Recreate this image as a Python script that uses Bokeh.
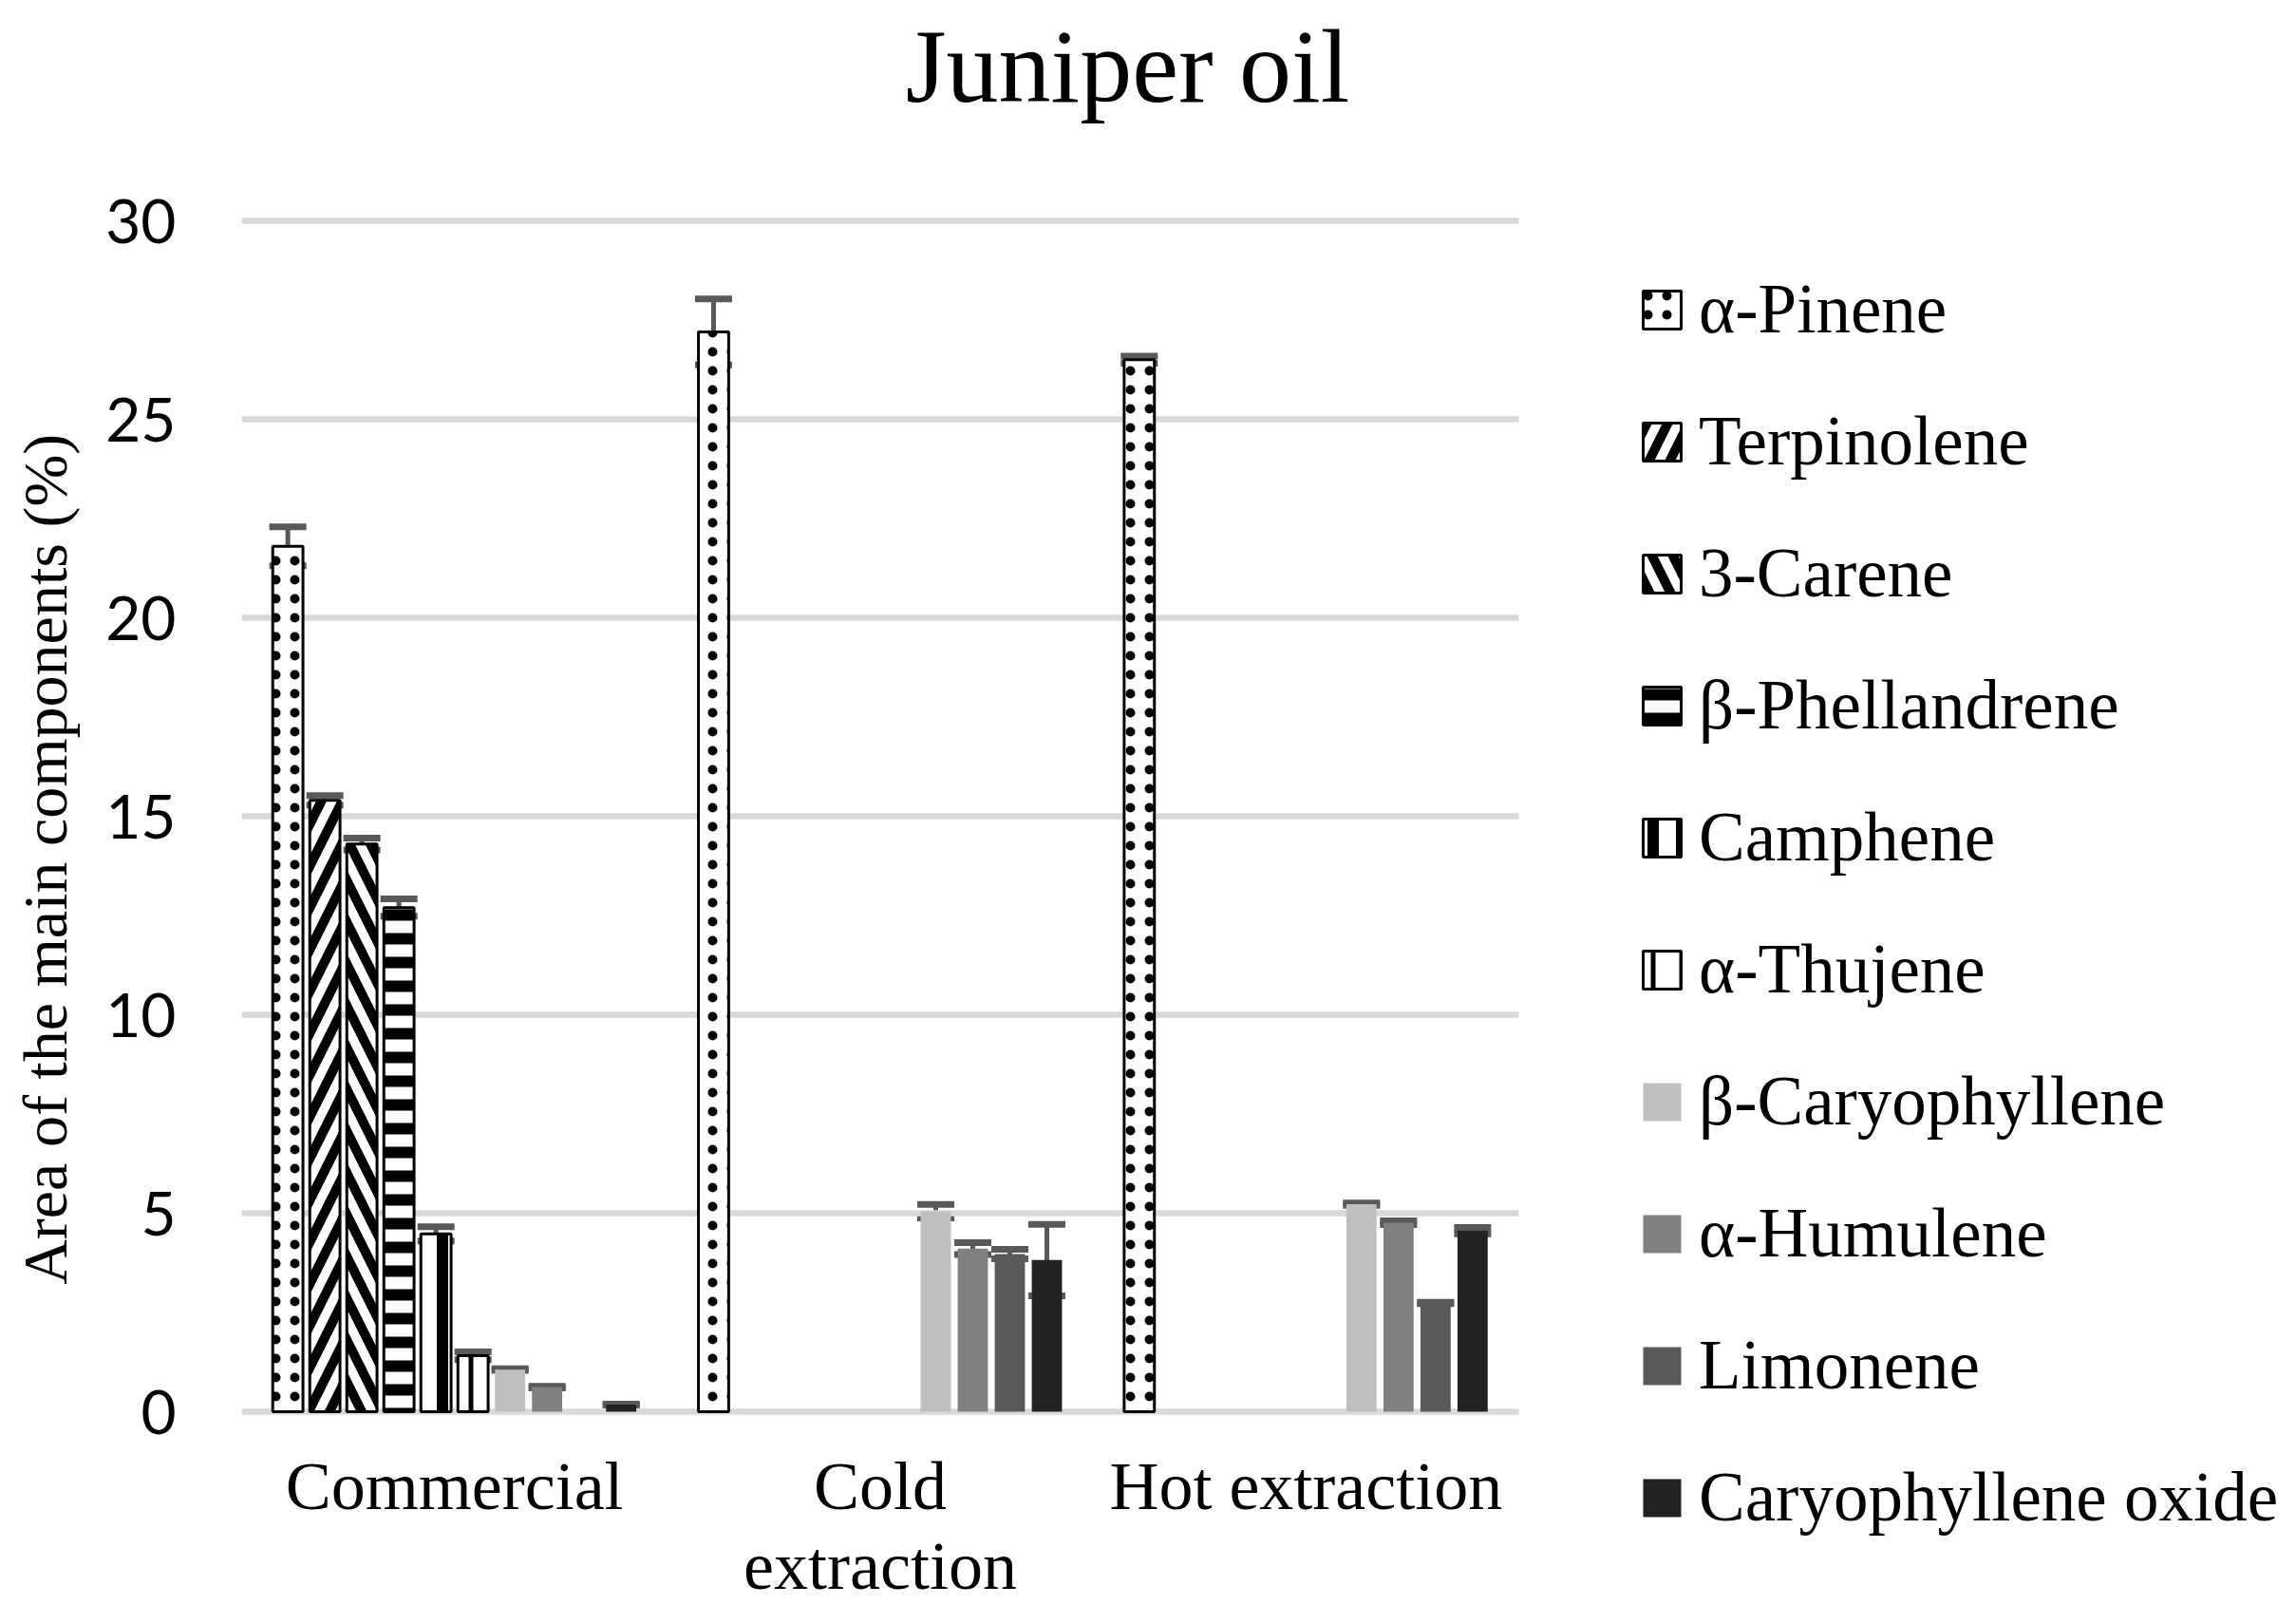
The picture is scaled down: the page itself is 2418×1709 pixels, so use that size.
from bokeh.plotting import figure
from bokeh.models import (ColumnDataSource, Range1d, FixedTicker, Whisker, TeeHead,
                          Legend, LegendItem, Label, Grid)
from bokeh.embed import file_html
from bokeh.resources import INLINE
from bokeh.core.properties import value

# ---------------- data ----------------
categories = ["Commercial", "Cold\nextraction", "Hot extraction"]
series_names = ["α-Pinene", "Terpinolene", "3-Carene", "β-Phellandrene", "Camphene",
                "α-Thujene", "β-Caryophyllene", "α-Humulene", "Limonene",
                "Caryophyllene oxide"]

alpha_pinene = [21.8, 27.2, 26.5]
alpha_pinene_err = [0.49, 0.83, 0.09]
terpinolene = [15.4, None, None]
terpinolene_err = [0.12, None, None]
carene = [14.3, None, None]
carene_err = [0.15, None, None]
phellandrene = [12.7, None, None]
phellandrene_err = [0.22, None, None]
camphene = [4.48, None, None]
camphene_err = [0.18, None, None]
thujene = [1.41, None, None]
thujene_err = [0.10, None, None]
caryophyllene = [1.06, 5.05, 5.23]
caryophyllene_err = [0.02, 0.17, 0.03]
humulene = [0.62, 4.11, 4.76]
humulene_err = [0.02, 0.15, 0.05]
limonene = [None, 3.97, 2.74]
limonene_err = [None, 0.12, 0.02]
caryophyllene_oxide = [0.18, 3.82, 4.56]
caryophyllene_oxide_err = [0.01, 0.90, 0.08]

y_ticks = [0, 5, 10, 15, 20, 25, 30]

series_values = [alpha_pinene, terpinolene, carene, phellandrene, camphene, thujene,
                 caryophyllene, humulene, limonene, caryophyllene_oxide]
series_errors = [alpha_pinene_err, terpinolene_err, carene_err, phellandrene_err,
                 camphene_err, thujene_err, caryophyllene_err, humulene_err,
                 limonene_err, caryophyllene_oxide_err]

# ---------------- styles ----------------
styles = [
    dict(fill_color="white", line_color="black", line_width=3, hatch_pattern="dot",
         hatch_color="black", hatch_scale=20, hatch_weight=6),
    dict(fill_color="white", line_color="black", line_width=3, hatch_pattern="right_diagonal_line",
         hatch_color="black", hatch_scale=44, hatch_weight=10),
    dict(fill_color="white", line_color="black", line_width=3, hatch_pattern="left_diagonal_line",
         hatch_color="black", hatch_scale=44, hatch_weight=10),
    dict(fill_color="white", line_color="black", line_width=3, hatch_pattern="horizontal_line",
         hatch_color="black", hatch_scale=25, hatch_weight=12),
    dict(fill_color="white", line_color="black", line_width=3, hatch_pattern="vertical_line",
         hatch_color="black", hatch_scale=30, hatch_weight=12),
    dict(fill_color="white", line_color="black", line_width=3, hatch_pattern="vertical_line",
         hatch_color="black", hatch_scale=30, hatch_weight=5),
    dict(fill_color="#BFBFBF", line_color=None),
    dict(fill_color="#808080", line_color=None),
    dict(fill_color="#595959", line_color=None),
    dict(fill_color="#222222", line_color=None),
]

SERIF = "Liberation Serif"
SANS = "Lato"

# geometry of the plotting area (pixels)
W, H = 2400, 1693
LEFT = 254
PX_PER_CAT = 448.33          # width of one category group
PX_PER_UNIT = 41.8           # pixels per % on the y axis
Y0_PX = 1486                 # pixel row of y = 0
frame_w = W - LEFT
x_end = frame_w / PX_PER_CAT
y_start = -(H - Y0_PX) / PX_PER_UNIT
y_end = Y0_PX / PX_PER_UNIT

p = figure(width=W, height=H, x_range=Range1d(0, x_end), y_range=Range1d(y_start, y_end),
           output_backend="svg", toolbar_location=None, title=None, x_axis_location=None,
           min_border_left=LEFT, min_border_right=0, min_border_top=0, min_border_bottom=0)
p.outline_line_color = None
p.background_fill_color = "white"
p.border_fill_color = "white"
for g in list(p.center):
    if isinstance(g, Grid):
        g.visible = False

# y axis
p.yaxis.ticker = FixedTicker(ticks=y_ticks)
p.yaxis.bounds = (0, 30)
p.yaxis.axis_line_color = None
p.yaxis.major_tick_line_color = None
p.yaxis.minor_tick_line_color = None
p.yaxis.major_tick_out = 0
p.yaxis.major_label_standoff = 69
p.yaxis.major_label_text_font = SANS
p.yaxis.major_label_text_font_size = "64px"
p.yaxis.major_label_text_color = "black"
p.yaxis.axis_label = "Area of the main components (%)" + "\u00a0" * 7
p.yaxis.axis_label_text_font = SERIF
p.yaxis.axis_label_text_font_style = "normal"
p.yaxis.axis_label_text_font_size = "66px"
p.yaxis.axis_label_standoff = 24
p.yaxis.axis_label_text_color = "black"

# horizontal grid lines over the category area
n_cat = len(categories)
p.segment(x0=[0] * len(y_ticks), x1=[n_cat] * len(y_ticks), y0=y_ticks, y1=y_ticks,
          line_color="#D9D9D9", line_width=6.5)

# category labels
cat_centers = [k + 0.5 for k in range(n_cat)]
p.text(x=cat_centers, y=[-0.93] * n_cat, text=categories, text_align="center",
       text_baseline="top", text_font=value(SERIF), text_font_size="72px",
       text_color="black", text_line_height=1.05)

n = len(series_names)
slot = 0.087
bar_w = 0.071
legend_items = []
for i, (name, vals, errs, st) in enumerate(zip(series_names, series_values, series_errors, styles)):
    off = (i - (n - 1) / 2) * slot
    xs = [cat_centers[k] + off for k, v in enumerate(vals) if v is not None]
    v = [x for x in vals if x is not None]
    e = [x for x, y in zip(errs, vals) if y is not None]
    src = ColumnDataSource(dict(x=xs, val=v,
                                upper=[a + b for a, b in zip(v, e)],
                                lower=[a - b for a, b in zip(v, e)]))
    r = p.vbar(x="x", top="val", bottom=0, width=bar_w, source=src, **st)
    legend_items.append(LegendItem(label=name, renderers=[r]))
    w = Whisker(base="x", upper="upper", lower="lower",
                source=src, line_color="#595959", line_width=5,
                upper_head=TeeHead(size=39, line_color="#595959", line_width=7),
                lower_head=TeeHead(size=39, line_color="#595959", line_width=7))
    p.add_layout(w)

legend = Legend(items=legend_items, location=(1471, 74), orientation="vertical",
                glyph_width=50, glyph_height=50, label_height=84, spacing=55,
                label_standoff=14, padding=0, margin=0,
                label_text_font=SERIF, label_text_font_size="73px",
                label_text_color="black", border_line_color=None,
                background_fill_alpha=0)
p.add_layout(legend, "center")

title = Label(x=(1187 - LEFT) / PX_PER_CAT, y=(Y0_PX - 69) / PX_PER_UNIT,
              text="Juniper oil", text_align="center", text_baseline="middle",
              text_font=SERIF, text_font_size="110px", text_color="black")
p.add_layout(title)

open("out.html", "w").write(file_html(p, INLINE))
